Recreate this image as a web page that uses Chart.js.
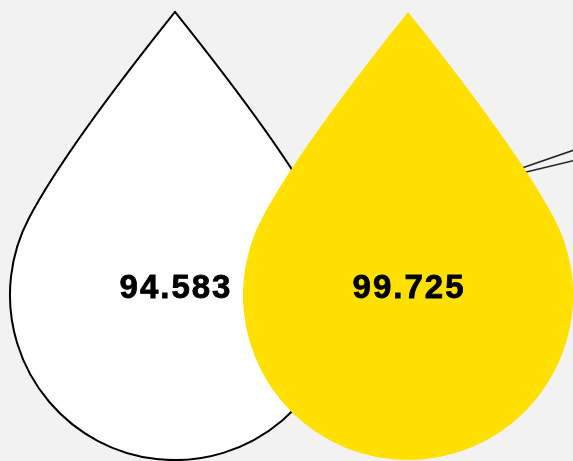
<!DOCTYPE html>
<html><head><meta charset="utf-8">
<script src="https://cdn.jsdelivr.net/npm/chart.js@4"></script>
<style>html,body{margin:0;padding:0;background:#f2f2f2;overflow:hidden}#wrap{width:573px;height:461px;position:relative}</style>
</head><body><div id="wrap"><canvas id="c"></canvas></div>
<script>
// ---- data ----
const categories = ['A', 'B'];
const values = [94.583, 99.725];
const dropFill = ['#ffffff', '#ffe000'];
const dropStroke = ['#000000', null];
const connectorA = [{x: 1.489, y: 63.56}, {x: 1.824, y: 69.4}];
const connectorB = [{x: 1.494, y: 62.54}, {x: 1.824, y: 66.55}];

function dropPath(ctx, cx, tipY, botY, R, s, phi) {
  const cy = botY - R;
  const px = R * Math.sin(phi), py = cy - R * Math.cos(phi);
  const u = (s * (py - tipY) - px) / (s * Math.sin(phi) - Math.cos(phi));
  const qx = px - u * Math.cos(phi), qy = py - u * Math.sin(phi);
  ctx.beginPath();
  ctx.moveTo(cx, tipY);
  ctx.quadraticCurveTo(cx - qx, qy, cx - px, py);
  ctx.arc(cx, cy, R, 1.5 * Math.PI - phi, phi - 0.5 * Math.PI, true);
  ctx.quadraticCurveTo(cx + qx, qy, cx, tipY);
  ctx.closePath();
}

const dropPlugin = {
  id: 'drops',
  afterDatasetsDraw(chart) {
    const ctx = chart.ctx;
    const a = chart.chartArea;
    const H = a.bottom - a.top;
    const meta = chart.getDatasetMeta(0);
    meta.data.forEach((el, i) => {
      const cx = el.x;
      const tipY = a.top + H * 0.026;
      const botY = a.top + H * 0.998;
      const R = H * 0.358;
      ctx.save();
      dropPath(ctx, cx, tipY, botY, R, 0.8, 62 * Math.PI / 180);
      ctx.fillStyle = dropFill[i];
      ctx.fill();
      if (dropStroke[i]) {
        ctx.lineWidth = 2;
        ctx.strokeStyle = dropStroke[i];
        ctx.stroke();
      }
      ctx.fillStyle = '#000';
      ctx.strokeStyle = '#000';
      ctx.lineWidth = 0.8;
      ctx.font = 'bold 33px "Liberation Sans", Arial, sans-serif';
      if ('letterSpacing' in ctx) ctx.letterSpacing = '2px';
      ctx.textAlign = 'center';
      ctx.textBaseline = 'alphabetic';
      const tx = cx + 1, ty = a.top + H * 0.647;
      ctx.fillText(String(values[i]), tx, ty);
      ctx.strokeText(String(values[i]), tx, ty);
      ctx.restore();
    });
  }
};

new Chart(document.getElementById('c'), {
  type: 'scatter',
  data: {
    datasets: [
      {label: 'drops', data: categories.map((c, i) => ({x: i, y: values[i]})), pointRadius: 0, pointHoverRadius: 0},
      {type: 'line', label: 'c1', data: connectorA, borderColor: '#222', borderWidth: 1.5, pointRadius: 0, fill: false, showLine: true},
      {type: 'line', label: 'c2', data: connectorB, borderColor: '#222', borderWidth: 1.5, pointRadius: 0, fill: false, showLine: true}
    ]
  },
  options: {
    responsive: true,
    maintainAspectRatio: false,
    animation: false,
    layout: {padding: 0},
    plugins: {legend: {display: false}, tooltip: {enabled: false}},
    scales: {
      x: {type: 'linear', display: false, min: -0.751, max: 1.708},
      y: {type: 'linear', display: false, min: 0, max: 100}
    }
  },
  plugins: [dropPlugin]
});
</script>
</body></html>
